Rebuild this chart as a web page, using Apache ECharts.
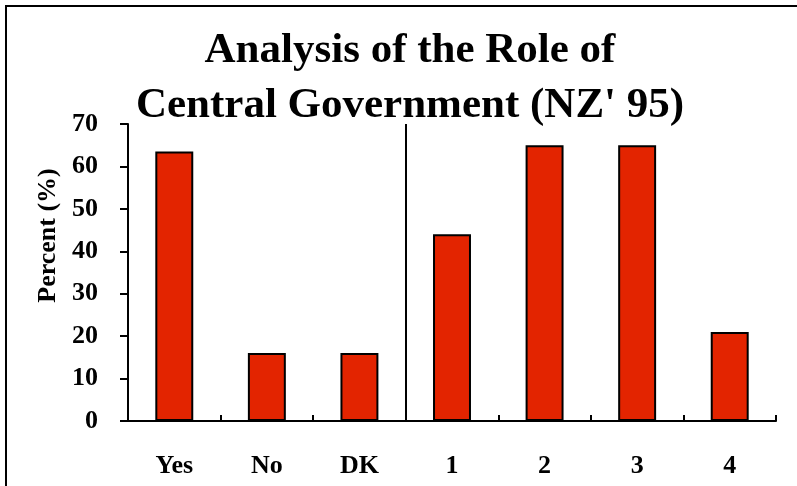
<!DOCTYPE html>
<html>
<head>
<meta charset="utf-8">
<script src="https://cdn.jsdelivr.net/npm/echarts@6/dist/echarts.min.js"></script>
<style>
  html, body { margin: 0; padding: 0; background: #fff; }
  #chart { width: 797px; height: 486px; }
</style>
</head>
<body>
<div id="chart"></div>
<script>
// answers and scale points
var categories = ['Yes', 'No', 'DK', '1', '2', '3', '4']
var percents = [63.5, 16, 16, 44, 65, 65, 21]
var yTicks = [0, 10, 20, 30, 40, 50, 60, 70]
// divider sits after the third category (between DK and 1)
var dividerAfter = 3

var serif = 'Liberation Serif'
var chart = echarts.init(document.getElementById('chart'))

var option = {
  animation: false,
  title: {
    text: 'Analysis of the Role of\nCentral Government (NZ\' 95)',
    left: 405,
    top: 18,
    textAlign: 'center',
    textStyle: {
      fontFamily: serif,
      fontWeight: 'bold',
      fontSize: 43,
      lineHeight: 55,
      color: '#000'
    }
  },
  graphic: [
    {
      type: 'rect',
      shape: { x: 6, y: 6, width: 820, height: 500 },
      style: { fill: null, stroke: '#000', lineWidth: 2 }
    }
  ],
  grid: {
    left: 128,
    right: 21,
    top: 124,
    bottom: 65
  },
  xAxis: [
    {
      type: 'category',
      data: categories,
      axisLine: { lineStyle: { color: '#000', width: 2 } },
      axisTick: {
        show: true,
        alignWithLabel: false,
        inside: true,
        length: 6,
        lineStyle: { color: '#000', width: 2 }
      },
      axisLabel: {
        margin: 32,
        fontFamily: serif,
        fontWeight: 'bold',
        fontSize: 26,
        color: '#000'
      },
      splitLine: { show: false }
    },
    {
      // hidden helper axis in category units, used for the divider line
      type: 'value',
      min: 0,
      max: categories.length,
      show: false,
      position: 'bottom'
    }
  ],
  yAxis: {
    type: 'value',
    min: 0,
    max: yTicks[yTicks.length - 1],
    interval: yTicks[1] - yTicks[0],
    name: 'Percent (%)',
    nameLocation: 'middle',
    nameGap: 57,
    nameTextStyle: {
      fontFamily: serif,
      fontWeight: 'bold',
      fontSize: 26,
      color: '#000',
      padding: [0, 0, 0, 74]
    },
    axisLine: { show: true, lineStyle: { color: '#000', width: 2 } },
    axisTick: { show: true, length: 8, lineStyle: { color: '#000', width: 2 } },
    axisLabel: {
      margin: 30,
      fontFamily: serif,
      fontWeight: 'bold',
      fontSize: 26,
      color: '#000'
    },
    splitLine: { show: false }
  },
  series: [
    {
      type: 'bar',
      data: percents,
      barWidth: '41%',
      itemStyle: {
        color: '#e32400',
        borderColor: '#000',
        borderWidth: 2
      }
    },
    {
      type: 'line',
      xAxisIndex: 1,
      data: [],
      silent: true,
      markLine: {
        symbol: 'none',
        silent: true,
        label: { show: false },
        lineStyle: { color: '#000', width: 2, type: 'solid' },
        data: [{ xAxis: dividerAfter }]
      }
    }
  ]
}

chart.setOption(option)
</script>
</body>
</html>
